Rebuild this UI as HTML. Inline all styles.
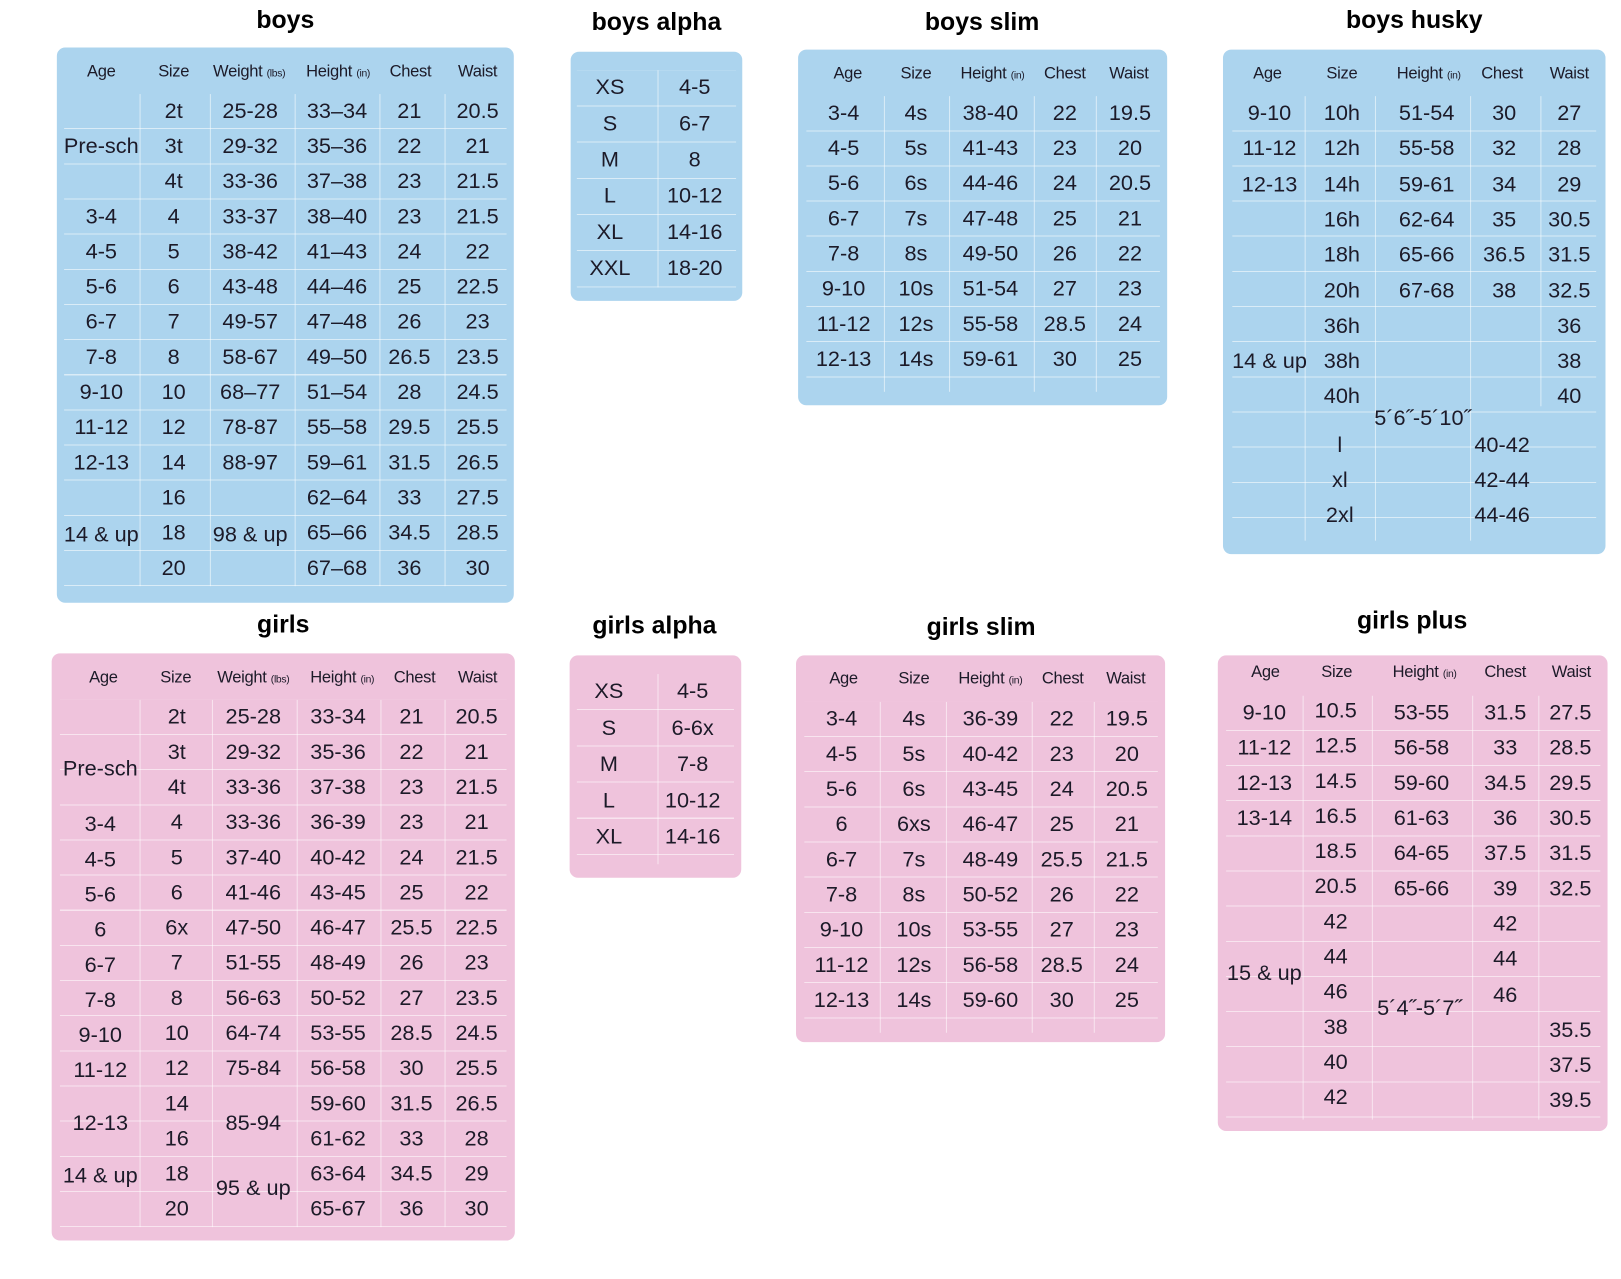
<!DOCTYPE html>
<html><head><meta charset="utf-8"><style>
html,body{margin:0;padding:0;background:#fff;width:1621px;height:1279px;overflow:hidden}
#w{position:absolute;left:0;top:0;width:1568px;height:1237px;transform:scale(1.0338);transform-origin:0 0;font-family:"Liberation Sans",sans-serif;color:#1c1a28}
#w i{position:absolute;font-style:normal;transform:translate(-50%,-50%);white-space:nowrap;font-size:21px}
#w b{position:absolute;transform:translate(-50%,-50%);white-space:nowrap;font-size:24px;font-weight:bold;color:#000}
#w i.h{font-size:16px;letter-spacing:-0.3px}
#w i.h small{font-size:10px}
.bx{position:absolute;border-radius:8px}
.bl{background:#acd4ee}
.pk{background:#efc3dc}
.g{position:absolute;background-image:repeating-linear-gradient(to bottom,transparent 0,transparent 33px,rgba(255,255,255,.55) 33px,rgba(255,255,255,.55) 34px)}
.v{position:absolute;width:1px;background:rgba(255,255,255,.55)}
</style></head><body><div id="w">

<!-- boys -->
<b style="left:276px;top:20px">boys</b>
<div class="bx bl" style="left:55px;top:46px;width:442px;height:537px"></div>
<div class="g" style="left:62px;top:91px;width:428px;height:476px"></div>
<div class="v" style="left:135px;top:91px;height:476px"></div>
<div class="v" style="left:203px;top:91px;height:476px"></div>
<div class="v" style="left:285px;top:91px;height:476px"></div>
<div class="v" style="left:367px;top:91px;height:476px"></div>
<div class="v" style="left:430px;top:91px;height:476px"></div>
<i class="h" style="left:98px;top:70px">Age</i><i class="h" style="left:168px;top:70px">Size</i><i class="h" style="left:241px;top:70px">Weight <small>(lbs)</small></i><i class="h" style="left:327px;top:70px">Height <small>(in)</small></i><i class="h" style="left:397px;top:70px">Chest</i><i class="h" style="left:462px;top:70px">Waist</i>
<i style="left:98px;top:142px">Pre-sch</i><i style="left:98px;top:210px">3-4</i><i style="left:98px;top:244px">4-5</i><i style="left:98px;top:278px">5-6</i><i style="left:98px;top:312px">6-7</i><i style="left:98px;top:346px">7-8</i><i style="left:98px;top:380px">9-10</i><i style="left:98px;top:414px">11-12</i><i style="left:98px;top:448px">12-13</i><i style="left:98px;top:518px">14 &amp; up</i>
<i style="left:168px;top:108px">2t</i><i style="left:168px;top:142px">3t</i><i style="left:168px;top:176px">4t</i><i style="left:168px;top:210px">4</i><i style="left:168px;top:244px">5</i><i style="left:168px;top:278px">6</i><i style="left:168px;top:312px">7</i><i style="left:168px;top:346px">8</i><i style="left:168px;top:380px">10</i><i style="left:168px;top:414px">12</i><i style="left:168px;top:448px">14</i><i style="left:168px;top:482px">16</i><i style="left:168px;top:516px">18</i><i style="left:168px;top:550px">20</i>
<i style="left:242px;top:108px">25-28</i><i style="left:242px;top:142px">29-32</i><i style="left:242px;top:176px">33-36</i><i style="left:242px;top:210px">33-37</i><i style="left:242px;top:244px">38-42</i><i style="left:242px;top:278px">43-48</i><i style="left:242px;top:312px">49-57</i><i style="left:242px;top:346px">58-67</i><i style="left:242px;top:380px">68–77</i><i style="left:242px;top:414px">78-87</i><i style="left:242px;top:448px">88-97</i><i style="left:242px;top:518px">98 &amp; up</i>
<i style="left:326px;top:108px">33–34</i><i style="left:326px;top:142px">35–36</i><i style="left:326px;top:176px">37–38</i><i style="left:326px;top:210px">38–40</i><i style="left:326px;top:244px">41–43</i><i style="left:326px;top:278px">44–46</i><i style="left:326px;top:312px">47–48</i><i style="left:326px;top:346px">49–50</i><i style="left:326px;top:380px">51–54</i><i style="left:326px;top:414px">55–58</i><i style="left:326px;top:448px">59–61</i><i style="left:326px;top:482px">62–64</i><i style="left:326px;top:516px">65–66</i><i style="left:326px;top:550px">67–68</i>
<i style="left:396px;top:108px">21</i><i style="left:396px;top:142px">22</i><i style="left:396px;top:176px">23</i><i style="left:396px;top:210px">23</i><i style="left:396px;top:244px">24</i><i style="left:396px;top:278px">25</i><i style="left:396px;top:312px">26</i><i style="left:396px;top:346px">26.5</i><i style="left:396px;top:380px">28</i><i style="left:396px;top:414px">29.5</i><i style="left:396px;top:448px">31.5</i><i style="left:396px;top:482px">33</i><i style="left:396px;top:516px">34.5</i><i style="left:396px;top:550px">36</i>
<i style="left:462px;top:108px">20.5</i><i style="left:462px;top:142px">21</i><i style="left:462px;top:176px">21.5</i><i style="left:462px;top:210px">21.5</i><i style="left:462px;top:244px">22</i><i style="left:462px;top:278px">22.5</i><i style="left:462px;top:312px">23</i><i style="left:462px;top:346px">23.5</i><i style="left:462px;top:380px">24.5</i><i style="left:462px;top:414px">25.5</i><i style="left:462px;top:448px">26.5</i><i style="left:462px;top:482px">27.5</i><i style="left:462px;top:516px">28.5</i><i style="left:462px;top:550px">30</i>

<!-- boys alpha -->
<b style="left:635px;top:22px">boys alpha</b>
<div class="bx bl" style="left:552px;top:50px;width:166px;height:241px"></div>
<div class="g" style="left:558px;top:68px;width:154px;height:210px;background-image:repeating-linear-gradient(to bottom,transparent 0,transparent 34px,rgba(255,255,255,.55) 34px,rgba(255,255,255,.55) 35px)"></div>
<div class="v" style="left:636px;top:68px;height:210px"></div>
<i style="left:590px;top:85px">XS</i><i style="left:590px;top:120px">S</i><i style="left:590px;top:155px">M</i><i style="left:590px;top:190px">L</i><i style="left:590px;top:225px">XL</i><i style="left:590px;top:260px">XXL</i>
<i style="left:672px;top:85px">4-5</i><i style="left:672px;top:120px">6-7</i><i style="left:672px;top:155px">8</i><i style="left:672px;top:190px">10-12</i><i style="left:672px;top:225px">14-16</i><i style="left:672px;top:260px">18-20</i>

<!-- boys slim -->
<b style="left:950px;top:22px">boys slim</b>
<div class="bx bl" style="left:772px;top:48px;width:357px;height:344px"></div>
<div class="g" style="left:780px;top:93px;width:342px;height:286px"></div>
<div class="v" style="left:855px;top:93px;height:286px"></div>
<div class="v" style="left:918px;top:93px;height:286px"></div>
<div class="v" style="left:1000px;top:93px;height:286px"></div>
<div class="v" style="left:1060px;top:93px;height:286px"></div>
<i class="h" style="left:820px;top:72px">Age</i><i class="h" style="left:886px;top:72px">Size</i><i class="h" style="left:960px;top:72px">Height <small>(in)</small></i><i class="h" style="left:1030px;top:72px">Chest</i><i class="h" style="left:1092px;top:72px">Waist</i>
<i style="left:816px;top:110px">3-4</i><i style="left:816px;top:144px">4-5</i><i style="left:816px;top:178px">5-6</i><i style="left:816px;top:212px">6-7</i><i style="left:816px;top:246px">7-8</i><i style="left:816px;top:280px">9-10</i><i style="left:816px;top:314px">11-12</i><i style="left:816px;top:348px">12-13</i>
<i style="left:886px;top:110px">4s</i><i style="left:886px;top:144px">5s</i><i style="left:886px;top:178px">6s</i><i style="left:886px;top:212px">7s</i><i style="left:886px;top:246px">8s</i><i style="left:886px;top:280px">10s</i><i style="left:886px;top:314px">12s</i><i style="left:886px;top:348px">14s</i>
<i style="left:958px;top:110px">38-40</i><i style="left:958px;top:144px">41-43</i><i style="left:958px;top:178px">44-46</i><i style="left:958px;top:212px">47-48</i><i style="left:958px;top:246px">49-50</i><i style="left:958px;top:280px">51-54</i><i style="left:958px;top:314px">55-58</i><i style="left:958px;top:348px">59-61</i>
<i style="left:1030px;top:110px">22</i><i style="left:1030px;top:144px">23</i><i style="left:1030px;top:178px">24</i><i style="left:1030px;top:212px">25</i><i style="left:1030px;top:246px">26</i><i style="left:1030px;top:280px">27</i><i style="left:1030px;top:314px">28.5</i><i style="left:1030px;top:348px">30</i>
<i style="left:1093px;top:110px">19.5</i><i style="left:1093px;top:144px">20</i><i style="left:1093px;top:178px">20.5</i><i style="left:1093px;top:212px">21</i><i style="left:1093px;top:246px">22</i><i style="left:1093px;top:280px">23</i><i style="left:1093px;top:314px">24</i><i style="left:1093px;top:348px">25</i>

<!-- boys husky -->
<b style="left:1368px;top:20px">boys husky</b>
<div class="bx bl" style="left:1183px;top:48px;width:370px;height:488px"></div>
<div class="g" style="left:1192px;top:93px;width:352px;height:430px"></div>
<div class="v" style="left:1262px;top:93px;height:430px"></div>
<div class="v" style="left:1330px;top:93px;height:430px"></div>
<div class="v" style="left:1422px;top:93px;height:430px"></div>
<div class="v" style="left:1490px;top:93px;height:300px"></div>
<i class="h" style="left:1226px;top:72px">Age</i><i class="h" style="left:1298px;top:72px">Size</i><i class="h" style="left:1382px;top:72px">Height <small>(in)</small></i><i class="h" style="left:1453px;top:72px">Chest</i><i class="h" style="left:1518px;top:72px">Waist</i>
<i style="left:1228px;top:110px">9-10</i><i style="left:1228px;top:144px">11-12</i><i style="left:1228px;top:179px">12-13</i><i style="left:1228px;top:350px">14 &amp; up</i>
<i style="left:1298px;top:110px">10h</i><i style="left:1298px;top:144px">12h</i><i style="left:1298px;top:179px">14h</i><i style="left:1298px;top:213px">16h</i><i style="left:1298px;top:247px">18h</i><i style="left:1298px;top:282px">20h</i><i style="left:1298px;top:316px">36h</i><i style="left:1298px;top:350px">38h</i><i style="left:1298px;top:384px">40h</i><i style="left:1296px;top:431px">l</i><i style="left:1296px;top:465px">xl</i><i style="left:1296px;top:499px">2xl</i>
<i style="left:1380px;top:110px">51-54</i><i style="left:1380px;top:144px">55-58</i><i style="left:1380px;top:179px">59-61</i><i style="left:1380px;top:213px">62-64</i><i style="left:1380px;top:247px">65-66</i><i style="left:1380px;top:282px">67-68</i><i style="left:1376px;top:405px">5´6˝-5´10˝</i>
<i style="left:1455px;top:110px">30</i><i style="left:1455px;top:144px">32</i><i style="left:1455px;top:179px">34</i><i style="left:1455px;top:213px">35</i><i style="left:1455px;top:247px">36.5</i><i style="left:1455px;top:282px">38</i><i style="left:1453px;top:431px">40-42</i><i style="left:1453px;top:465px">42-44</i><i style="left:1453px;top:499px">44-46</i>
<i style="left:1518px;top:110px">27</i><i style="left:1518px;top:144px">28</i><i style="left:1518px;top:179px">29</i><i style="left:1518px;top:213px">30.5</i><i style="left:1518px;top:247px">31.5</i><i style="left:1518px;top:282px">32.5</i><i style="left:1518px;top:316px">36</i><i style="left:1518px;top:350px">38</i><i style="left:1518px;top:384px">40</i>

<!-- girls -->
<b style="left:274px;top:605px">girls</b>
<div class="bx pk" style="left:50px;top:632px;width:448px;height:568px"></div>
<div class="g" style="left:58px;top:677px;width:432px;height:510px"></div>
<div class="v" style="left:135px;top:677px;height:510px"></div>
<div class="v" style="left:205px;top:677px;height:510px"></div>
<div class="v" style="left:287px;top:677px;height:510px"></div>
<div class="v" style="left:368px;top:677px;height:510px"></div>
<div class="v" style="left:430px;top:677px;height:510px"></div>
<i class="h" style="left:100px;top:656px">Age</i><i class="h" style="left:170px;top:656px">Size</i><i class="h" style="left:245px;top:656px">Weight <small>(lbs)</small></i><i class="h" style="left:331px;top:656px">Height <small>(in)</small></i><i class="h" style="left:401px;top:656px">Chest</i><i class="h" style="left:462px;top:656px">Waist</i>
<i style="left:97px;top:744px">Pre-sch</i><i style="left:97px;top:798px">3-4</i><i style="left:97px;top:832px">4-5</i><i style="left:97px;top:866px">5-6</i><i style="left:97px;top:900px">6</i><i style="left:97px;top:934px">6-7</i><i style="left:97px;top:968px">7-8</i><i style="left:97px;top:1002px">9-10</i><i style="left:97px;top:1036px">11-12</i><i style="left:97px;top:1087px">12-13</i><i style="left:97px;top:1138px">14 &amp; up</i>
<i style="left:171px;top:694px">2t</i><i style="left:171px;top:728px">3t</i><i style="left:171px;top:762px">4t</i><i style="left:171px;top:796px">4</i><i style="left:171px;top:830px">5</i><i style="left:171px;top:864px">6</i><i style="left:171px;top:898px">6x</i><i style="left:171px;top:932px">7</i><i style="left:171px;top:966px">8</i><i style="left:171px;top:1000px">10</i><i style="left:171px;top:1034px">12</i><i style="left:171px;top:1068px">14</i><i style="left:171px;top:1102px">16</i><i style="left:171px;top:1136px">18</i><i style="left:171px;top:1170px">20</i>
<i style="left:245px;top:694px">25-28</i><i style="left:245px;top:728px">29-32</i><i style="left:245px;top:762px">33-36</i><i style="left:245px;top:796px">33-36</i><i style="left:245px;top:830px">37-40</i><i style="left:245px;top:864px">41-46</i><i style="left:245px;top:898px">47-50</i><i style="left:245px;top:932px">51-55</i><i style="left:245px;top:966px">56-63</i><i style="left:245px;top:1000px">64-74</i><i style="left:245px;top:1034px">75-84</i><i style="left:245px;top:1087px">85-94</i><i style="left:245px;top:1150px">95 &amp; up</i>
<i style="left:327px;top:694px">33-34</i><i style="left:327px;top:728px">35-36</i><i style="left:327px;top:762px">37-38</i><i style="left:327px;top:796px">36-39</i><i style="left:327px;top:830px">40-42</i><i style="left:327px;top:864px">43-45</i><i style="left:327px;top:898px">46-47</i><i style="left:327px;top:932px">48-49</i><i style="left:327px;top:966px">50-52</i><i style="left:327px;top:1000px">53-55</i><i style="left:327px;top:1034px">56-58</i><i style="left:327px;top:1068px">59-60</i><i style="left:327px;top:1102px">61-62</i><i style="left:327px;top:1136px">63-64</i><i style="left:327px;top:1170px">65-67</i>
<i style="left:398px;top:694px">21</i><i style="left:398px;top:728px">22</i><i style="left:398px;top:762px">23</i><i style="left:398px;top:796px">23</i><i style="left:398px;top:830px">24</i><i style="left:398px;top:864px">25</i><i style="left:398px;top:898px">25.5</i><i style="left:398px;top:932px">26</i><i style="left:398px;top:966px">27</i><i style="left:398px;top:1000px">28.5</i><i style="left:398px;top:1034px">30</i><i style="left:398px;top:1068px">31.5</i><i style="left:398px;top:1102px">33</i><i style="left:398px;top:1136px">34.5</i><i style="left:398px;top:1170px">36</i>
<i style="left:461px;top:694px">20.5</i><i style="left:461px;top:728px">21</i><i style="left:461px;top:762px">21.5</i><i style="left:461px;top:796px">21</i><i style="left:461px;top:830px">21.5</i><i style="left:461px;top:864px">22</i><i style="left:461px;top:898px">22.5</i><i style="left:461px;top:932px">23</i><i style="left:461px;top:966px">23.5</i><i style="left:461px;top:1000px">24.5</i><i style="left:461px;top:1034px">25.5</i><i style="left:461px;top:1068px">26.5</i><i style="left:461px;top:1102px">28</i><i style="left:461px;top:1136px">29</i><i style="left:461px;top:1170px">30</i>

<!-- girls alpha -->
<b style="left:633px;top:606px">girls alpha</b>
<div class="bx pk" style="left:551px;top:634px;width:166px;height:215px"></div>
<div class="g" style="left:558px;top:652px;width:152px;height:184px;background-image:repeating-linear-gradient(to bottom,transparent 0,transparent 34px,rgba(255,255,255,.55) 34px,rgba(255,255,255,.55) 35px)"></div>
<div class="v" style="left:636px;top:652px;height:184px"></div>
<i style="left:589px;top:669px">XS</i><i style="left:589px;top:705px">S</i><i style="left:589px;top:740px">M</i><i style="left:589px;top:775px">L</i><i style="left:589px;top:810px">XL</i>
<i style="left:670px;top:669px">4-5</i><i style="left:670px;top:705px">6-6x</i><i style="left:670px;top:740px">7-8</i><i style="left:670px;top:775px">10-12</i><i style="left:670px;top:810px">14-16</i>

<!-- girls slim -->
<b style="left:949px;top:607px">girls slim</b>
<div class="bx pk" style="left:770px;top:634px;width:357px;height:374px"></div>
<div class="g" style="left:778px;top:679px;width:342px;height:320px"></div>
<div class="v" style="left:851px;top:679px;height:320px"></div>
<div class="v" style="left:915px;top:679px;height:320px"></div>
<div class="v" style="left:998px;top:679px;height:320px"></div>
<div class="v" style="left:1058px;top:679px;height:320px"></div>
<i class="h" style="left:816px;top:657px">Age</i><i class="h" style="left:884px;top:657px">Size</i><i class="h" style="left:958px;top:657px">Height <small>(in)</small></i><i class="h" style="left:1028px;top:657px">Chest</i><i class="h" style="left:1089px;top:657px">Waist</i>
<i style="left:814px;top:696px">3-4</i><i style="left:814px;top:730px">4-5</i><i style="left:814px;top:764px">5-6</i><i style="left:814px;top:798px">6</i><i style="left:814px;top:832px">6-7</i><i style="left:814px;top:866px">7-8</i><i style="left:814px;top:900px">9-10</i><i style="left:814px;top:934px">11-12</i><i style="left:814px;top:968px">12-13</i>
<i style="left:884px;top:696px">4s</i><i style="left:884px;top:730px">5s</i><i style="left:884px;top:764px">6s</i><i style="left:884px;top:798px">6xs</i><i style="left:884px;top:832px">7s</i><i style="left:884px;top:866px">8s</i><i style="left:884px;top:900px">10s</i><i style="left:884px;top:934px">12s</i><i style="left:884px;top:968px">14s</i>
<i style="left:958px;top:696px">36-39</i><i style="left:958px;top:730px">40-42</i><i style="left:958px;top:764px">43-45</i><i style="left:958px;top:798px">46-47</i><i style="left:958px;top:832px">48-49</i><i style="left:958px;top:866px">50-52</i><i style="left:958px;top:900px">53-55</i><i style="left:958px;top:934px">56-58</i><i style="left:958px;top:968px">59-60</i>
<i style="left:1027px;top:696px">22</i><i style="left:1027px;top:730px">23</i><i style="left:1027px;top:764px">24</i><i style="left:1027px;top:798px">25</i><i style="left:1027px;top:832px">25.5</i><i style="left:1027px;top:866px">26</i><i style="left:1027px;top:900px">27</i><i style="left:1027px;top:934px">28.5</i><i style="left:1027px;top:968px">30</i>
<i style="left:1090px;top:696px">19.5</i><i style="left:1090px;top:730px">20</i><i style="left:1090px;top:764px">20.5</i><i style="left:1090px;top:798px">21</i><i style="left:1090px;top:832px">21.5</i><i style="left:1090px;top:866px">22</i><i style="left:1090px;top:900px">23</i><i style="left:1090px;top:934px">24</i><i style="left:1090px;top:968px">25</i>

<!-- girls plus -->
<b style="left:1366px;top:601px">girls plus</b>
<div class="bx pk" style="left:1178px;top:634px;width:377px;height:460px"></div>
<div class="g" style="left:1186px;top:673px;width:362px;height:410px"></div>
<div class="v" style="left:1260px;top:673px;height:410px"></div>
<div class="v" style="left:1327px;top:673px;height:410px"></div>
<div class="v" style="left:1424px;top:673px;height:410px"></div>
<div class="v" style="left:1488px;top:673px;height:410px"></div>
<i class="h" style="left:1224px;top:651px">Age</i><i class="h" style="left:1293px;top:651px">Size</i><i class="h" style="left:1378px;top:651px">Height <small>(in)</small></i><i class="h" style="left:1456px;top:651px">Chest</i><i class="h" style="left:1520px;top:651px">Waist</i>
<i style="left:1223px;top:690px">9-10</i><i style="left:1223px;top:724px">11-12</i><i style="left:1223px;top:758px">12-13</i><i style="left:1223px;top:792px">13-14</i><i style="left:1223px;top:942px">15 &amp; up</i>
<i style="left:1292px;top:688px">10.5</i><i style="left:1292px;top:722px">12.5</i><i style="left:1292px;top:756px">14.5</i><i style="left:1292px;top:790px">16.5</i><i style="left:1292px;top:824px">18.5</i><i style="left:1292px;top:858px">20.5</i><i style="left:1292px;top:892px">42</i><i style="left:1292px;top:926px">44</i><i style="left:1292px;top:960px">46</i><i style="left:1292px;top:994px">38</i><i style="left:1292px;top:1028px">40</i><i style="left:1292px;top:1062px">42</i>
<i style="left:1375px;top:690px">53-55</i><i style="left:1375px;top:724px">56-58</i><i style="left:1375px;top:758px">59-60</i><i style="left:1375px;top:792px">61-63</i><i style="left:1375px;top:826px">64-65</i><i style="left:1375px;top:860px">65-66</i><i style="left:1373px;top:976px">5´4˝-5´7˝</i>
<i style="left:1456px;top:690px">31.5</i><i style="left:1456px;top:724px">33</i><i style="left:1456px;top:758px">34.5</i><i style="left:1456px;top:792px">36</i><i style="left:1456px;top:826px">37.5</i><i style="left:1456px;top:860px">39</i><i style="left:1456px;top:894px">42</i><i style="left:1456px;top:928px">44</i><i style="left:1456px;top:963px">46</i>
<i style="left:1519px;top:690px">27.5</i><i style="left:1519px;top:724px">28.5</i><i style="left:1519px;top:758px">29.5</i><i style="left:1519px;top:792px">30.5</i><i style="left:1519px;top:826px">31.5</i><i style="left:1519px;top:860px">32.5</i><i style="left:1519px;top:997px">35.5</i><i style="left:1519px;top:1031px">37.5</i><i style="left:1519px;top:1065px">39.5</i>

</div></body></html>
